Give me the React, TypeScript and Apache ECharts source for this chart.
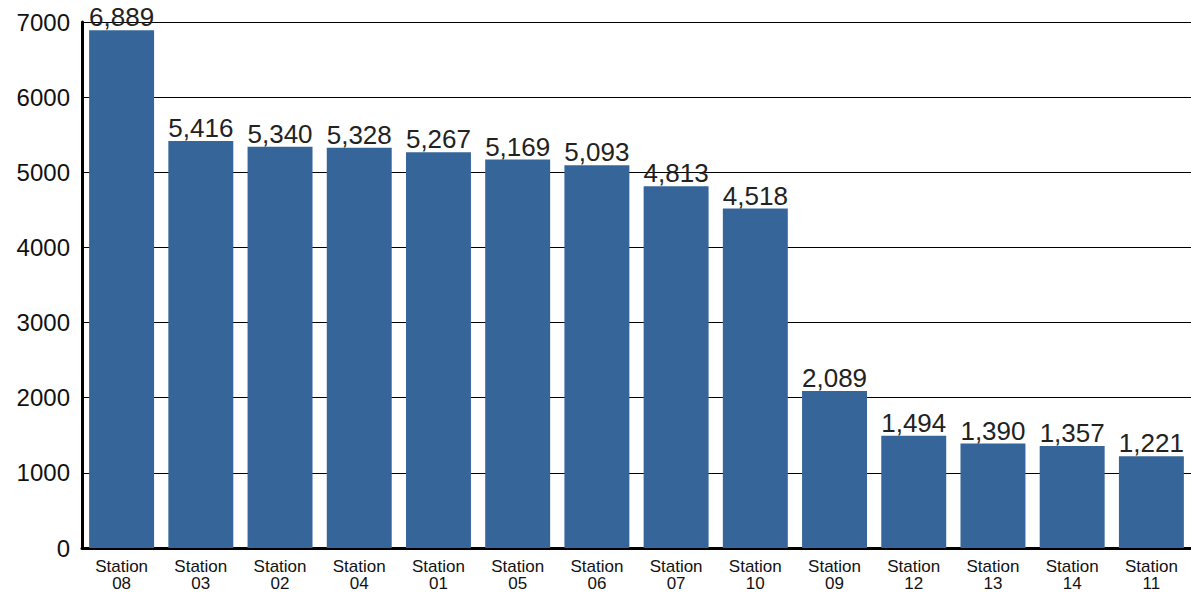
import React, { useEffect, useRef } from "react";
import * as echarts from "echarts";

const categories = ["Station\n08", "Station\n03", "Station\n02", "Station\n04", "Station\n01", "Station\n05", "Station\n06", "Station\n07", "Station\n10", "Station\n09", "Station\n12", "Station\n13", "Station\n14", "Station\n11"];
const values = [6889, 5416, 5340, 5328, 5267, 5169, 5093, 4813, 4518, 2089, 1494, 1390, 1357, 1221];

export default function App() {
  const ref = useRef<HTMLDivElement>(null);
  useEffect(() => {
    const chart = echarts.init(ref.current!, null, { renderer: "svg" });
    chart.setOption({
      animation: false,
      grid: { left: 82, right: -4, top: 22, bottom: 46, containLabel: false },
      xAxis: {
        type: "category",
        data: categories,
        axisLine: { show: true, lineStyle: { color: "#000", width: 3 } },
        axisTick: { show: false },
        axisLabel: { color: "#111", fontFamily: "Liberation Sans", fontSize: 17, lineHeight: 17, margin: 10, interval: 0 },
      },
      yAxis: {
        type: "value",
        min: 0,
        max: 7000,
        interval: 1000,
        axisLine: { show: true, lineStyle: { color: "#000", width: 3 } },
        axisTick: { show: false },
        axisLabel: { color: "#111", fontFamily: "Liberation Sans", fontSize: 24, margin: 12, formatter: (v: number) => String(v) },
        splitLine: { show: true, lineStyle: { color: "#000", width: 1 } },
      },
      series: [
        {
          type: "bar",
          data: values,
          barCategoryGap: "18%",
          itemStyle: { color: "#366699" },
          label: {
            show: true,
            position: "top",
            distance: 0,
            color: "#222",
            fontFamily: "Liberation Sans",
            fontSize: 26,
            formatter: (p: any) => p.value.toLocaleString("en-US"),
          },
        },
      ],
    });
    return () => chart.dispose();
  }, []);
  return <div ref={ref} style={{ position: "absolute", left: 0, top: 0, width: 1191, height: 594 }} />;
}
